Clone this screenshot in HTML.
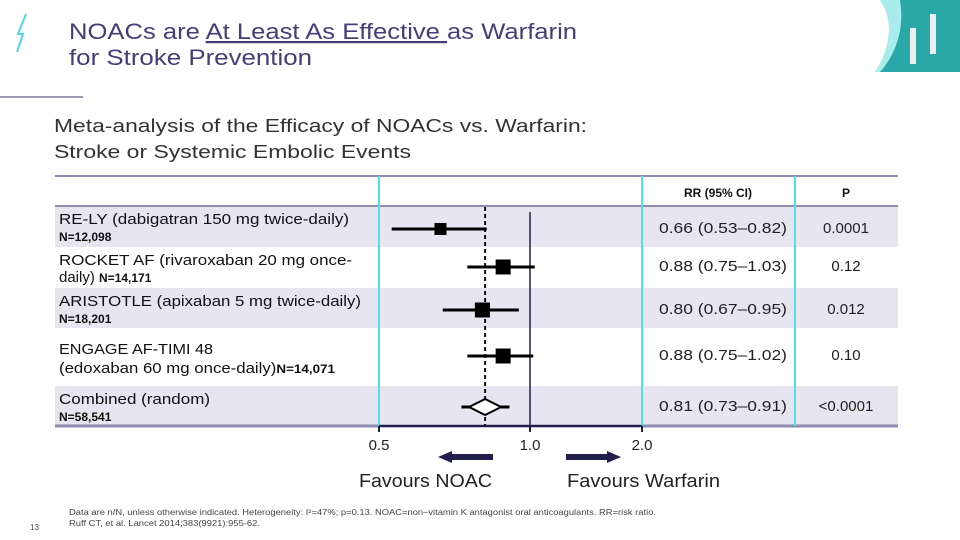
<!DOCTYPE html>
<html><head><meta charset="utf-8"><style>
body{margin:0;background:#fff;}
svg{display:block;font-family:"Liberation Sans",sans-serif;}
</style></head><body>
<svg width="960" height="540" viewBox="0 0 960 540">
<path d="M26,14 L18,34 L23,34 L17,52" stroke="#4fd6e8" stroke-width="2" fill="none"/>
<text x="69" y="39" font-size="22" fill="#483c78" textLength="508" lengthAdjust="spacingAndGlyphs">NOACs are <tspan text-decoration="underline">At Least As Effective </tspan>as Warfarin</text>
<text x="69" y="65" font-size="22" fill="#483c78" textLength="243" lengthAdjust="spacingAndGlyphs">for Stroke Prevention</text>
<line x1="0" y1="97" x2="83" y2="97" stroke="#9a98b4" stroke-width="2"/>
<g>
<path d="M880,0 L960,0 L960,72 L875,72 C890,50 895,20 880,0Z" fill="#2aa8a8"/>
<path d="M880,0 L900,0 C905,30 895,55 880,72 L875,72 C890,50 895,20 880,0Z" fill="#a8ecec"/>
<rect x="910" y="28" width="6" height="36" fill="#eee"/><rect x="930" y="14" width="6" height="40" fill="#eee"/>
</g>
<text x="54" y="132" font-size="18" fill="#333" textLength="533" lengthAdjust="spacingAndGlyphs">Meta-analysis of the Efficacy of NOACs vs. Warfarin:</text>
<text x="54" y="158" font-size="18" fill="#333" textLength="357" lengthAdjust="spacingAndGlyphs">Stroke or Systemic Embolic Events</text>
<g id="rows"></g>
<g id="plot"></g>
<text x="718" y="197" font-size="12" font-weight="bold" fill="#111" text-anchor="middle">RR (95% CI)</text>
<text x="846" y="197" font-size="12" font-weight="bold" fill="#111" text-anchor="middle">P</text>
<path d="M438,457 L452,451 L452,454 L493,454 L493,460 L452,460 L452,463Z" fill="#22204a"/>
<path d="M621,457 L607,451 L607,454 L566,454 L566,460 L607,460 L607,463Z" fill="#22204a"/>
<text x="359" y="487" font-size="18" fill="#222" textLength="133" lengthAdjust="spacingAndGlyphs">Favours NOAC</text>
<text x="567" y="487" font-size="18" fill="#222" textLength="153" lengthAdjust="spacingAndGlyphs">Favours Warfarin</text>
<text x="69" y="515" font-size="8" fill="#444" textLength="587" lengthAdjust="spacingAndGlyphs">Data are n/N, unless otherwise indicated. Heterogeneity: I²=47%; p=0.13. NOAC=non–vitamin K antagonist oral anticoagulants. RR=risk ratio.</text>
<text x="69" y="526" font-size="8" fill="#444" textLength="191" lengthAdjust="spacingAndGlyphs">Ruff CT, et al. Lancet 2014;383(9921):955-62.</text>
<text x="30" y="530" font-size="8" fill="#444">13</text>
</svg>
<script>
const studies=["RE-LY","ROCKET AF","ARISTOTLE","ENGAGE AF-TIMI 48","Combined"];
const rr=[0.66,0.88,0.80,0.88,0.81];
const lo=[0.53,0.75,0.67,0.75,0.73];
const hi=[0.82,1.03,0.95,1.02,0.91];
const rrText=["0.66 (0.53–0.82)","0.88 (0.75–1.03)","0.80 (0.67–0.95)","0.88 (0.75–1.02)","0.81 (0.73–0.91)"];
const pText=["0.0001","0.12","0.012","0.10","<0.0001"];
const ticks=[0.5,1.0,2.0];
const tickLabels=["0.5","1.0","2.0"];
const NS="http://www.w3.org/2000/svg";
function xs(v){const l=Math.log2(v);return l<0?530+l*151:530+l*112;}
function mk(t,a,p){const e=document.createElementNS(NS,t);for(const k in a)e.setAttribute(k,a[k]);p.appendChild(e);return e;}
const rowsG=document.getElementById('rows'),plot=document.getElementById('plot');
const rowTop=[206,247,288,328,386],rowBot=[247,288,328,386,426],shade=[1,0,1,0,1];
const ys=[229,267,310,356,407];
const lab=[["RE-LY (dabigatran 150 mg twice-daily)","N=12,098",""],["ROCKET AF (rivaroxaban 20 mg once-","daily) ","N=14,171"],["ARISTOTLE (apixaban 5 mg twice-daily)","N=18,201",""],["ENGAGE AF-TIMI 48","(edoxaban 60 mg once-daily)","N=14,071"],["Combined (random)","N=58,541",""]];
const labW=[290,293,302,154,151];
for(let i=0;i<5;i++){
 if(shade[i]){const r=mk('rect',{x:55,y:rowTop[i],width:843,height:rowBot[i]-rowTop[i],fill:'#e6e5f0'},rowsG);
 
 }
 const t1=mk('text',{x:59,y:rowTop[i]+(i==3?26:18),'font-size':15,fill:'#111',textLength:labW[i],lengthAdjust:'spacingAndGlyphs'},rowsG);t1.textContent=lab[i][0];
 
 
 const t2=mk('text',{x:59,y:rowTop[i]+(i==3?45:35),fill:'#111'},rowsG);
 
 
 if(i==1||i==3){const a=mk('tspan',{'font-size':15},t2);a.textContent=lab[i][1];const b=mk('tspan',{'font-size':12,'font-weight':'bold'},t2);b.textContent=lab[i][2];
  if(i==3){t2.setAttribute('textLength',276);t2.setAttribute('lengthAdjust','spacingAndGlyphs');}}
 else{t2.setAttribute('font-size',12);t2.setAttribute('font-weight','bold');t2.textContent=lab[i][1];}
 const rt=mk('text',{x:659,y:ys[i]+4,'font-size':15,fill:'#222',textLength:128,lengthAdjust:'spacingAndGlyphs'},rowsG);rt.textContent=rrText[i];
 
 
 const pt=mk('text',{x:846,y:ys[i]+4,'font-size':15,fill:'#222','text-anchor':'middle'},rowsG);pt.textContent=pText[i];
 
 
}
[176,206].forEach(y=>{const l=mk('line',{x1:55,x2:898,y1:y,y2:y,stroke:'#8f8cb0','stroke-width':2},rowsG);
 
 });
const bl=mk('line',{x1:55,x2:898,y1:426,y2:426,stroke:'#8f8cb0','stroke-width':3},rowsG);


[379,642,795].forEach(x=>{const l=mk('line',{x1:x,x2:x,y1:176,y2:426,stroke:'#4fe0e8','stroke-width':2},rowsG);
 
 });
const ax=mk('line',{x1:xs(0.5),x2:xs(2.0),y1:426,y2:426,stroke:'#22204a','stroke-width':2},plot);


ticks.forEach((v,i)=>{const t=mk('line',{x1:xs(v),x2:xs(v),y1:426,y2:432,stroke:'#22204a','stroke-width':2},plot);
 
 
 const tl=mk('text',{x:xs(v),y:450,'font-size':15,fill:'#222','text-anchor':'middle'},plot);tl.textContent=tickLabels[i];
 
 });
const ref=mk('line',{x1:xs(1),x2:xs(1),y1:212,y2:426,stroke:'#22204a','stroke-width':1.5},plot);


const cm=mk('line',{x1:xs(rr[4])+1,x2:xs(rr[4])+1,y1:207,y2:426,stroke:'#111','stroke-width':2,'stroke-dasharray':'4,3'},plot);


const sz=[12,15,15,15];
for(let i=0;i<5;i++){
 const c=mk('line',{x1:xs(lo[i]),x2:xs(hi[i]),y1:ys[i],y2:ys[i],stroke:'#000','stroke-width':3},plot);
 
 
 if(i<4){const s=sz[i];const r=mk('rect',{x:xs(rr[i])-s/2+1,y:ys[i]-s/2,width:s,height:s,fill:'#000'},plot);
 
 }
 else{const x=xs(rr[i])+1,y=ys[i];const d=mk('path',{d:`M${x-16},${y} L${x},${y-8} L${x+16},${y} L${x},${y+8}Z`,fill:'#fff',stroke:'#000','stroke-width':2},plot);
 
 }
}
</script>
</body></html>
